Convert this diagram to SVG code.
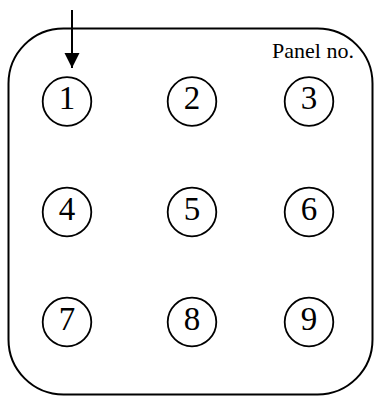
<svg xmlns="http://www.w3.org/2000/svg" width="374" height="396" viewBox="0 0 374 396">
<style>
.n circle{fill:#fff;stroke:#000;stroke-width:1.8}
.n text{font-family:"Liberation Serif",serif;font-size:33px;text-anchor:middle;fill:#000}
.lbl{font-family:"Liberation Serif",serif;font-size:22px;fill:#000}
</style>
<defs>
<marker id="ah" markerWidth="16" markerHeight="16" refX="15" refY="8" orient="auto" markerUnits="userSpaceOnUse">
<path d="M0,0.5 L15,8 L0,15.5 Z" fill="#000"/>
</marker>
</defs>
<rect id="panel" x="8.5" y="28.5" width="364" height="366" rx="55" ry="55" fill="none" stroke="#000" stroke-width="2"/>
<text class="lbl" x="272" y="58">Panel no.</text>
<g id="c1" class="n"><circle cx="67" cy="101.5" r="24.3"/><text x="67" y="109">1</text></g>
<g id="c2" class="n"><circle cx="192" cy="101.5" r="24.3"/><text x="192" y="109">2</text></g>
<g id="c3" class="n"><circle cx="309" cy="101.5" r="24.3"/><text x="309" y="109">3</text></g>
<g id="c4" class="n"><circle cx="67" cy="212" r="24.3"/><text x="67" y="219.5">4</text></g>
<g id="c5" class="n"><circle cx="192" cy="212" r="24.3"/><text x="192" y="219.5">5</text></g>
<g id="c6" class="n"><circle cx="309" cy="212" r="24.3"/><text x="309" y="219.5">6</text></g>
<g id="c7" class="n"><circle cx="67" cy="322" r="24.3"/><text x="67" y="329.5">7</text></g>
<g id="c8" class="n"><circle cx="192" cy="322" r="24.3"/><text x="192" y="329.5">8</text></g>
<g id="c9" class="n"><circle cx="309" cy="322" r="24.3"/><text x="309" y="329.5">9</text></g>
<g id="connectors">
<line x1="72" y1="10" x2="72" y2="68" stroke="#000" stroke-width="2" marker-end="url(#ah)"/>
</g>
</svg>
